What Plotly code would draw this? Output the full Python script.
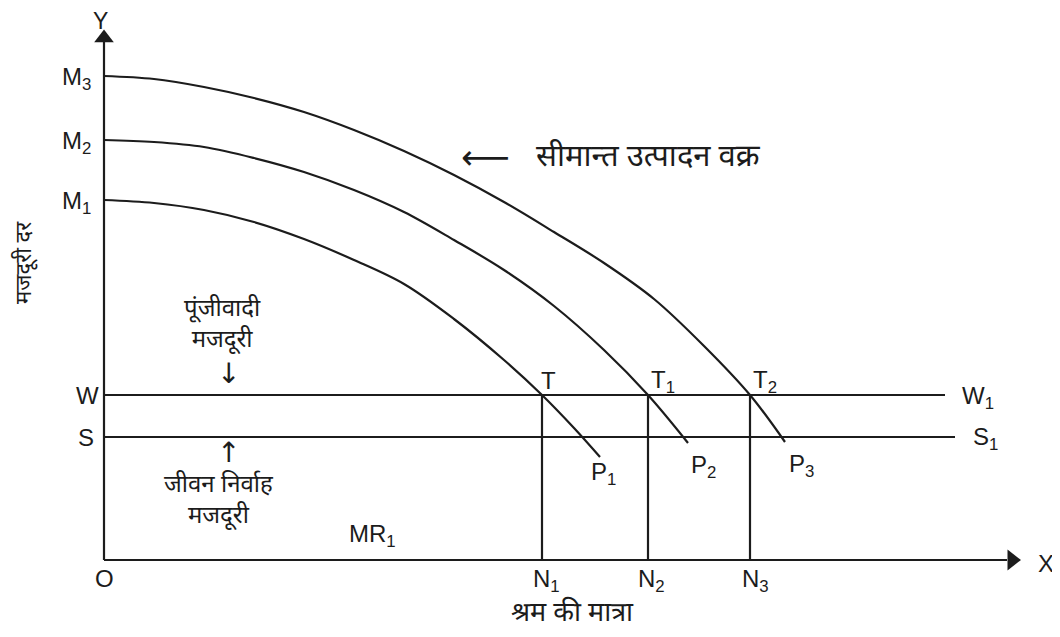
import plotly.graph_objects as go

# ---- data (x = quantity of labour, y = wage rate; units) ----
mp1_x = [0, 50, 100, 150, 200, 250, 300, 350, 400, 438, 470, 496]
mp1_y = [360, 357, 350, 338, 321, 300, 276, 241, 200, 165, 132, 103]

mp2_x = [0, 50, 100, 150, 200, 250, 300, 350, 400, 450, 500, 544, 584]
mp2_y = [420, 418, 413, 402, 388, 370, 348, 320, 290, 254, 210, 165, 117]

mp3_x = [0, 50, 100, 150, 200, 250, 300, 350, 400, 450, 500, 550, 600, 646, 681]
mp3_y = [484, 481, 473, 462, 448, 430, 409, 385, 358, 328, 297, 261, 214, 165, 118]

wage_capitalist = 165      # W – W1
wage_subsistence = 123     # S – S1
wage_line_end = [841, 851]
n_points = [438, 544, 646]  # N1, N2, N3
y_axis_top = 518
x_axis_end = 903

line_col = "#1c1c1c"
fig = go.Figure()

def line(xs, ys, shape="linear"):
    fig.add_trace(go.Scatter(x=xs, y=ys, mode="lines", hoverinfo="skip",
                             line=dict(color=line_col, width=2.2, shape=shape, smoothing=1.0),
                             showlegend=False))

# axes
line([0, 0], [0, y_axis_top])
line([0, x_axis_end], [0, 0])
fig.add_trace(go.Scatter(x=[0], y=[y_axis_top + 4], mode="markers", showlegend=False,
                         marker=dict(symbol="triangle-up", size=17, color=line_col)))
fig.add_trace(go.Scatter(x=[x_axis_end + 5], y=[0], mode="markers", showlegend=False,
                         marker=dict(symbol="triangle-right", size=18, color=line_col)))

# marginal product curves
line(mp1_x, mp1_y, "spline")
line(mp2_x, mp2_y, "spline")
line(mp3_x, mp3_y, "spline")

# wage lines
line([0, wage_line_end[0]], [wage_capitalist, wage_capitalist])
line([0, wage_line_end[1]], [wage_subsistence, wage_subsistence])

# verticals
for n in n_points:
    line([n, n], [0, wage_capitalist])

lat = "Liberation Sans, Arial, sans-serif"
dev = "Noto Sans Devanagari, Lohit Devanagari, Mangal, Noto Sans, sans-serif"

def txt(x, y, s, size=24, font=lat, **kw):
    fig.add_annotation(x=x, y=y, text=s, showarrow=False, xref="x", yref="y",
                       font=dict(family=font, size=size, color="#1c1c1c"), **kw)

# axis letters
txt(-4, 539, "Y", size=23)
txt(942, -3, "X")
txt(0, -18, "O")
# M labels
txt(-28, 482, "M<sub>3</sub>")
txt(-28, 418, "M<sub>2</sub>")
txt(-28, 358, "M<sub>1</sub>")
txt(-17, wage_capitalist, "W")
txt(-18, wage_subsistence, "S")
# T labels
txt(444, 180, "T")
txt(559, 179, "T<sub>1</sub>")
txt(661, 179, "T<sub>2</sub>")
# W1 S1
txt(874, wage_capitalist - 2, "W<sub>1</sub>")
txt(881, wage_subsistence - 1, "S<sub>1</sub>")
# P labels
txt(499, 87, "P<sub>1</sub>")
txt(599, 94, "P<sub>2</sub>")
txt(697, 95, "P<sub>3</sub>")
# N labels
txt(442, -20, "N<sub>1</sub>")
txt(547, -20, "N<sub>2</sub>")
txt(651, -20, "N<sub>3</sub>")
txt(268, 25, "MR<sub>1</sub>")

# Hindi labels
txt(468, -54, "श्रम की मात्रा", size=27, font=dev)
txt(-79, 297, "मजदूरी दर", size=22, font=dev, textangle=-90)
txt(118, 235, "पूंजीवादी<br>मजदूरी", size=24, font=dev)
txt(124, 187, "↓", size=28, font="DejaVu Sans")
txt(124, 108, "↑", size=28, font="DejaVu Sans")
txt(115, 59, "जीवन निर्वाह<br>मजदूरी", size=24, font=dev)
txt(381, 403, "⟵", size=34, font="DejaVu Sans")
txt(544, 402, "सीमान्त उत्पादन वक्र", size=31, font=dev)

fig.update_layout(
    width=1052, height=629,
    margin=dict(l=0, r=0, t=0, b=0),
    paper_bgcolor="white", plot_bgcolor="white",
    xaxis=dict(range=[-96, 956], visible=False, fixedrange=True),
    yaxis=dict(range=[-77, 552], visible=False, fixedrange=True),
    showlegend=False,
)
fig.write_html("out.html")
